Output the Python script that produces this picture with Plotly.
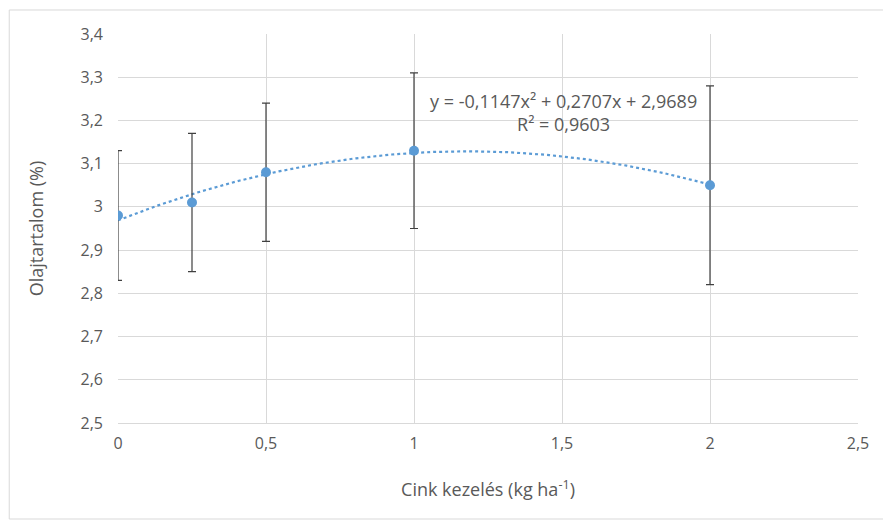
import plotly.graph_objects as go
import numpy as np

# zinc treatment (kg/ha) vs oil content (%)
zinc = [0, 0.25, 0.5, 1, 2]
oil = [2.98, 3.01, 3.08, 3.13, 3.05]
err = [0.15, 0.16, 0.16, 0.18, 0.23]

# polynomial trendline coefficients as shown on the chart (a, b, c)
trend_coefs = [-0.1147, 0.2707, 2.9689]
trend_label = "y = -0,1147x² + 0,2707x + 2,9689<br>R² = 0,9603"

blue = "#5B9BD5"
grey_txt = "#595959"
grid = "#d9d9d9"

trend_x = np.linspace(min(zinc), max(zinc), 200)
trend_y = np.polyval(trend_coefs, trend_x)

fig = go.Figure()

fig.add_trace(go.Scatter(
    x=trend_x, y=trend_y,
    mode="lines",
    line=dict(color=blue, width=2.2, dash="dot"),
    hoverinfo="skip",
    showlegend=False
))

fig.add_trace(go.Scatter(
    x=zinc, y=oil,
    mode="markers",
    marker=dict(color=blue, size=10),
    error_y=dict(type="data", array=err, color="#404040", thickness=1.2, width=4),
    showlegend=False
))

fig.add_annotation(
    x=1.505, y=3.218, xref="x", yref="y",
    text=trend_label,
    showarrow=False,
    font=dict(family="Open Sans", size=18, color=grey_txt),
    align="center"
)

# outer chart border (page has an 8px body margin)
fig.add_shape(
    type="rect", xref="paper", yref="paper",
    x0=-0.147, x1=1.0405, y0=-0.2468, y1=1.0617,
    line=dict(color="#d9d9d9", width=1)
)

fig.update_layout(
    width=891, height=523,
    margin=dict(l=110, r=41, t=26, b=108),
    paper_bgcolor="white",
    plot_bgcolor="white",
    separators=", ",
    font=dict(family="Open Sans", color=grey_txt),
    xaxis=dict(
        range=[0, 2.5], dtick=0.5, tick0=0,
        showgrid=True, gridcolor=grid, gridwidth=1,
        showline=True, linecolor=grid, linewidth=1,
        zeroline=False, ticks="",
        ticklabelstandoff=6,
        tickfont=dict(size=16, color=grey_txt),
        title=dict(text="Cink kezelés (kg ha<sup>-1</sup>)",
                   font=dict(size=18, color=grey_txt), standoff=30)
    ),
    yaxis=dict(
        range=[2.5, 3.4], dtick=0.1, tick0=2.5,
        showgrid=True, gridcolor=grid, gridwidth=1,
        showline=False, zeroline=False, ticks="",
        ticklabelstandoff=14,
        tickfont=dict(size=16, color=grey_txt),
        title=dict(text="Olajtartalom (%)",
                   font=dict(size=18, color=grey_txt), standoff=32)
    )
)

fig.write_html("out.html")
